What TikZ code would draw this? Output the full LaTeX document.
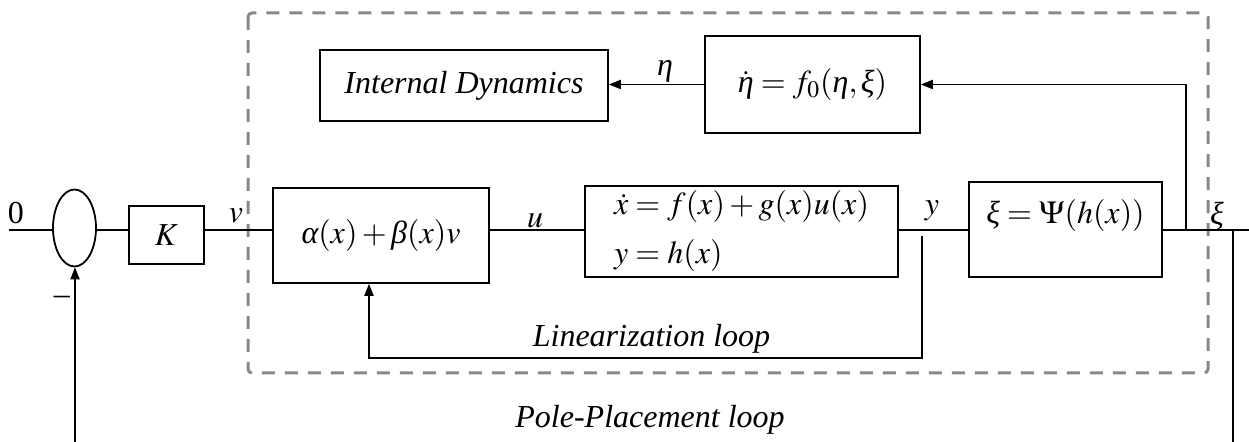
\documentclass[tikz,border=0pt]{standalone}
\usepackage{mathptmx}
\usepackage[no-math]{fontspec}
\setmainfont{Liberation Serif}
\usetikzlibrary{arrows.meta,shapes.geometric}
\definecolor{dashgray}{RGB}{136,136,136}
\newcommand{\grk}[1]{\mbox{\itshape #1}}
\begin{document}
\begin{tikzpicture}[x=0.5pt,y=-0.5pt,
  every node/.style={font=\fontsize{16}{19}\selectfont},
  blk/.style={draw,line width=0.9pt,rectangle,inner sep=0pt},
  lbl/.style={inner sep=0pt},
  conn/.style={line width=0.75pt},
  arr/.style={conn,-{Triangle[length=6pt,width=4.6pt]}}]
\useasboundingbox (0,0) rectangle (1249,442);
% dashed frame
\draw[dashgray,line width=1.5pt,dash pattern=on 6.5pt off 5pt,rounded corners=2pt] (248,13) rectangle (1208,373);
% blocks
\node[blk,ellipse,minimum width=21.5pt,minimum height=38.5pt] (sum) at (74.5,228) {};
\node[blk,minimum width=37.5pt,minimum height=29pt] (K) at (166.5,235) {$K$};
\node[blk,minimum width=108pt,minimum height=47.5pt] (alpha) at (381,235.5) {$\grk{α}(x)+\grk{β}(x)v$};
\node[blk,minimum width=156.5pt,minimum height=45.5pt,align=left] (plant) at (741.5,231.5)
  {$\dot x=f(x)+g(x)u(x)$\\[5.5pt]$y=h(x)$};
\node[blk,minimum width=96.5pt,minimum height=47.5pt,text height=11pt,text depth=17pt] (psi) at (1065.5,229.5) {$\grk{ξ}=\Psi(h(x))$};
\node[blk,minimum width=144pt,minimum height=35.5pt] (id) at (464,85.5) {\itshape Internal Dynamics};
\node[blk,minimum width=107.5pt,minimum height=48.5pt] (eta) at (812.5,84.5) {$\dot{\grk{η}}=f_0(\grk{η},\grk{ξ})$};
% labels
\node[lbl] (l0) at (16,213) {0};
\node[lbl] (lv) at (236,216) {$v$};
\node[lbl] (lu) at (535,221) {$u$};
\node[lbl] (ly) at (932,211) {$y$};
\node[lbl] (lxi) at (1217,216) {\itshape ξ};
\node[lbl] (leta) at (665,71) {\itshape η};
\node[lbl] (lminus) at (62,300) {–};
\node[lbl] (llin) at (651.5,339) {\itshape Linearization loop};
\node[lbl] (lpole) at (650,420) {\itshape Pole-Placement loop};
% connectors
\coordinate (ml) at (0,230);
\coordinate (in0) at (9,230);
\draw[conn] (in0) -- (in0 -| sum.west);
\draw[conn] (sum.east |- ml) -- (K.west |- ml);
\draw[conn] (K.east |- ml) -- (alpha.west |- ml);
\draw[conn] (alpha.east |- ml) -- (plant.west |- ml);
\draw[conn] (plant.east |- ml) -- (psi.west |- ml);
\coordinate (out) at (1249,230);
\draw[conn] (psi.east |- ml) -- (out);
\coordinate (tap) at (1186,230);
\draw[arr] (tap) |- (eta.east);
\draw[arr] (eta.west) -- (eta.west -| id.east);
\coordinate (ytap) at (922,236);
\coordinate (lin) at (922,358);
\coordinate (linl) at (369,358);
\draw[arr] (ytap) -- (lin) -- (linl) -- (linl |- alpha.south);
\coordinate (xtap) at (1233,230);
\coordinate (xbot) at (1233,442);
\draw[conn] (xtap) -- (xbot);
\coordinate (fb) at (75,442);
\draw[arr] (fb) -- (fb |- sum.south);
\end{tikzpicture}
\end{document}
